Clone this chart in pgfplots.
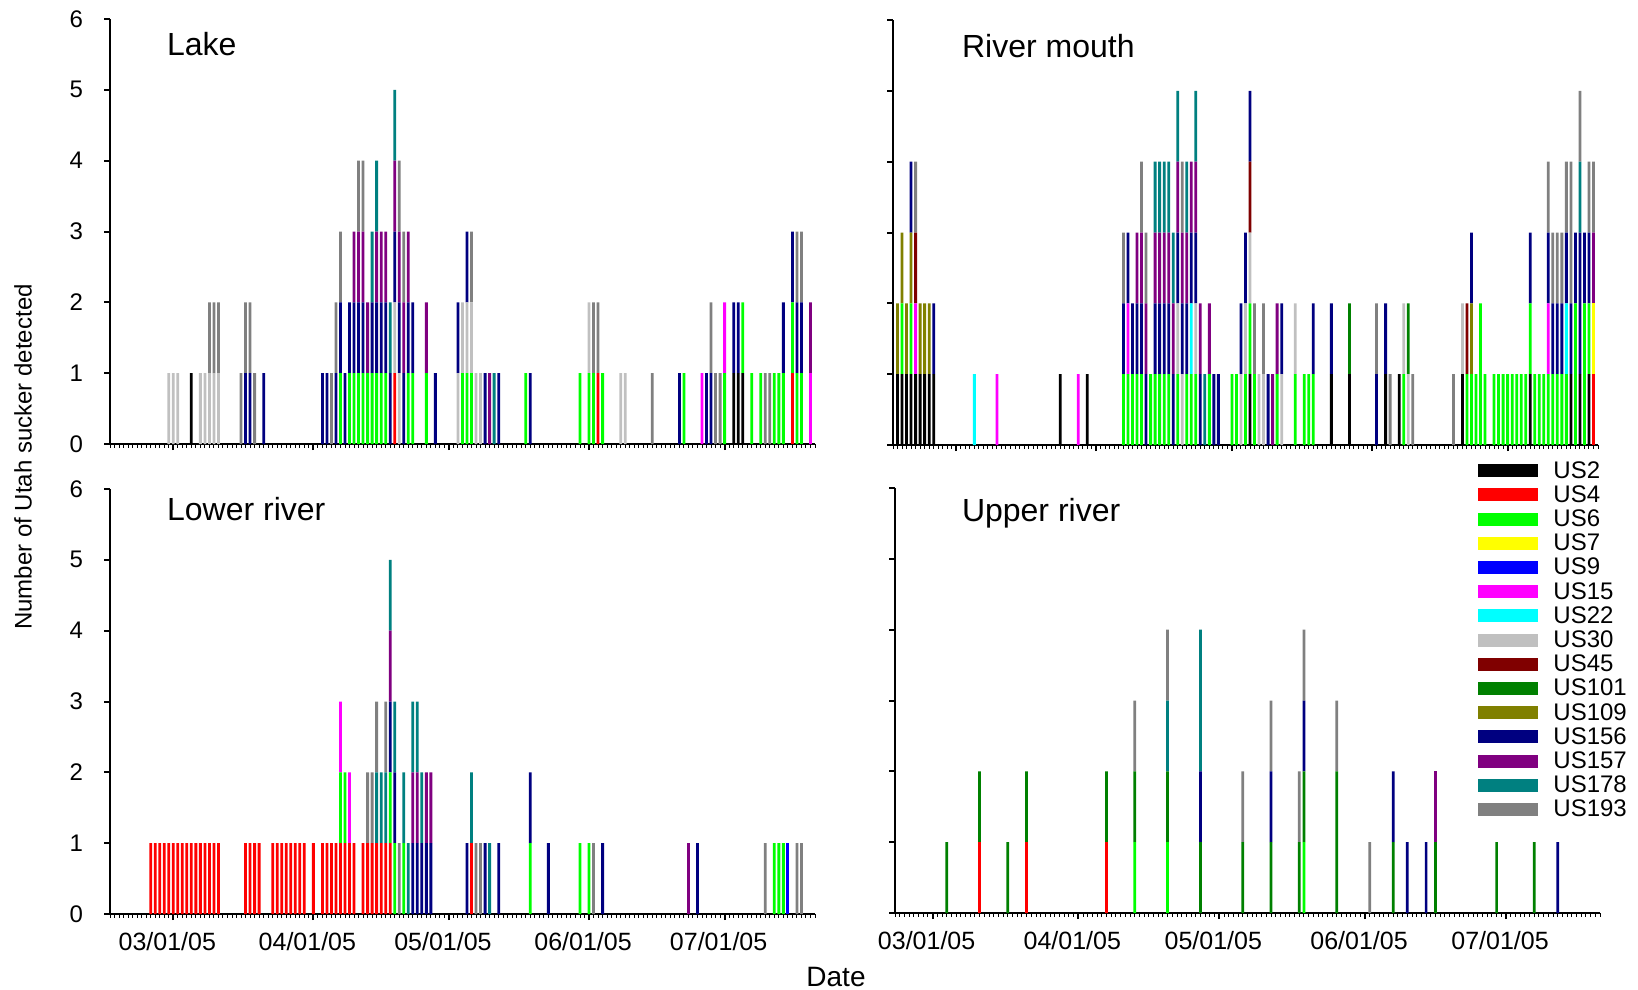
\documentclass[border=0pt]{standalone}
\usepackage{pgfplots}
\pgfplotsset{compat=1.18}
\usepackage{pgfplotstable}
\usepackage{fontspec}
\setmainfont{Liberation Sans}

\definecolor{c2}{RGB}{0,0,0}
\definecolor{c4}{RGB}{255,0,0}
\definecolor{c6}{RGB}{0,255,0}
\definecolor{c7}{RGB}{255,255,0}
\definecolor{c9}{RGB}{0,0,255}
\definecolor{c15}{RGB}{255,0,255}
\definecolor{c22}{RGB}{0,255,255}
\definecolor{c30}{RGB}{192,192,192}
\definecolor{c45}{RGB}{128,0,0}
\definecolor{c101}{RGB}{0,128,0}
\definecolor{c109}{RGB}{128,128,0}
\definecolor{c156}{RGB}{0,0,128}
\definecolor{c157}{RGB}{128,0,128}
\definecolor{c178}{RGB}{0,128,128}
\definecolor{c193}{RGB}{128,128,128}

% columns: day (0 = 03/01/05), then number detected per fish
\pgfplotstableread{
d s2 s4 s6 s7 s9 s15 s22 s30 s45 s101 s109 s156 s157 s178 s193
-1 0 0 0 0 0 0 0 1 0 0 0 0 0 0 0
0 0 0 0 0 0 0 0 1 0 0 0 0 0 0 0
1 0 0 0 0 0 0 0 1 0 0 0 0 0 0 0
4 1 0 0 0 0 0 0 0 0 0 0 0 0 0 0
6 0 0 0 0 0 0 0 1 0 0 0 0 0 0 0
7 0 0 0 0 0 0 0 1 0 0 0 0 0 0 0
8 0 0 0 0 0 0 0 1 0 0 0 0 0 0 1
9 0 0 0 0 0 0 0 1 0 0 0 0 0 0 1
10 0 0 0 0 0 0 0 1 0 0 0 0 0 0 1
15 0 0 0 0 0 0 0 0 0 0 0 0 0 0 1
16 0 0 0 0 0 0 0 0 0 0 0 1 0 0 1
17 0 0 0 0 0 0 0 0 0 0 0 1 0 0 1
18 0 0 0 0 0 0 0 0 0 0 0 0 0 0 1
20 0 0 0 0 0 0 0 0 0 0 0 1 0 0 0
33 0 0 0 0 0 0 0 0 0 0 0 1 0 0 0
34 0 0 0 0 0 0 0 0 0 0 0 1 0 0 0
35 0 0 0 0 0 0 0 0 0 0 0 0 0 0 1
36 0 0 0 0 0 0 0 0 0 0 0 1 0 0 1
37 0 0 1 0 0 0 0 0 0 0 0 1 0 0 1
38 0 0 0 0 0 0 0 0 0 0 0 1 0 0 0
39 0 0 1 0 0 0 0 0 0 0 0 1 0 0 0
40 0 0 1 0 0 0 0 0 0 0 0 1 1 0 0
41 0 0 1 0 0 0 0 0 0 0 0 1 1 0 1
42 0 0 1 0 0 0 0 0 0 0 0 1 1 0 1
43 0 0 1 0 0 0 0 0 0 0 0 0 1 0 0
44 0 0 1 0 0 0 0 0 0 0 0 1 0 1 0
45 0 0 1 0 0 0 0 0 0 0 0 1 1 1 0
46 0 0 1 0 0 0 0 0 0 0 0 1 1 0 0
47 0 0 1 0 0 0 0 0 0 0 0 1 1 0 0
48 0 0 0 0 0 0 0 0 0 0 0 1 0 1 0
49 0 1 0 0 0 0 0 1 0 0 0 1 1 1 0
50 0 0 0 0 0 0 0 1 0 0 0 1 1 0 1
51 0 0 0 0 0 0 0 0 0 0 0 1 1 0 1
52 0 0 1 0 0 0 0 0 0 0 0 1 1 0 0
53 0 0 1 0 0 0 0 0 0 0 0 1 0 0 0
56 0 0 1 0 0 0 0 0 0 0 0 0 1 0 0
58 0 0 0 0 0 0 0 0 0 0 0 1 0 0 0
63 0 0 0 0 0 0 0 1 0 0 0 1 0 0 0
64 0 0 1 0 0 0 0 1 0 0 0 0 0 0 0
65 0 0 1 0 0 0 0 1 0 0 0 1 0 0 0
66 0 0 1 0 0 0 0 1 0 0 0 0 0 0 1
67 0 0 0 0 0 0 0 1 0 0 0 0 0 0 0
68 0 0 0 0 0 0 0 1 0 0 0 0 0 0 0
69 0 0 0 0 0 0 0 0 0 0 0 1 0 0 0
70 0 0 0 0 0 0 0 0 0 0 0 0 1 0 0
71 0 0 0 0 0 0 0 0 0 0 0 0 0 1 0
72 0 0 0 0 0 0 0 0 0 0 0 1 0 0 0
78 0 0 1 0 0 0 0 0 0 0 0 0 0 0 0
79 0 0 0 0 0 0 0 0 0 0 0 1 0 0 0
90 0 0 1 0 0 0 0 0 0 0 0 0 0 0 0
92 0 0 1 0 0 0 0 1 0 0 0 0 0 0 0
93 0 0 1 0 0 0 0 0 0 0 0 0 0 0 1
94 0 1 0 0 0 0 0 0 0 0 0 0 0 0 1
95 0 0 1 0 0 0 0 0 0 0 0 0 0 0 0
99 0 0 0 0 0 0 0 1 0 0 0 0 0 0 0
100 0 0 0 0 0 0 0 1 0 0 0 0 0 0 0
106 0 0 0 0 0 0 0 0 0 0 0 0 0 0 1
112 0 0 0 0 0 0 0 0 0 0 0 1 0 0 0
113 0 0 1 0 0 0 0 0 0 0 0 0 0 0 0
117 0 0 0 0 0 1 0 0 0 0 0 0 0 0 0
118 0 0 0 0 0 0 0 0 0 0 0 1 0 0 0
119 0 0 0 0 0 0 0 0 0 0 0 1 0 0 1
120 0 0 0 0 0 0 0 0 0 0 0 0 0 0 1
121 0 0 0 0 0 0 0 0 0 0 0 0 0 0 1
122 0 0 1 0 0 1 0 0 0 0 0 0 0 0 0
124 1 0 0 0 0 0 0 0 0 0 0 1 0 0 0
125 1 0 0 0 0 0 0 0 0 0 0 1 0 0 0
126 1 0 1 0 0 0 0 0 0 0 0 0 0 0 0
128 0 0 1 0 0 0 0 0 0 0 0 0 0 0 0
130 0 0 1 0 0 0 0 0 0 0 0 0 0 0 0
131 0 0 0 0 0 0 0 0 0 0 0 0 0 0 1
132 0 0 0 0 0 0 0 0 0 0 0 0 0 0 1
133 0 0 1 0 0 0 0 0 0 0 0 0 0 0 0
134 0 0 1 0 0 0 0 0 0 0 0 0 0 0 0
135 0 0 1 0 0 0 0 0 0 0 0 1 0 0 0
137 0 1 1 0 0 0 0 0 0 0 0 1 0 0 0
138 0 0 1 0 0 0 0 0 0 0 0 1 0 0 1
139 0 0 1 0 0 0 0 0 0 0 0 1 0 0 1
141 0 0 0 0 0 1 0 0 0 0 0 0 1 0 0
}\tLake

\pgfplotstableread{
d s2 s4 s6 s7 s9 s15 s22 s30 s45 s101 s109 s156 s157 s178 s193
-13 1 0 0 0 0 0 0 0 0 0 1 0 0 0 0
-12 1 0 1 0 0 0 0 0 0 0 1 0 0 0 0
-11 1 0 0 0 0 0 0 0 0 0 1 0 0 0 0
-10 1 0 1 0 0 0 0 0 0 0 1 1 0 0 0
-9 1 0 0 0 0 1 0 0 1 0 0 0 0 0 1
-8 1 0 0 0 0 0 0 0 0 0 1 0 0 0 0
-7 1 0 0 0 0 0 0 0 0 0 1 0 0 0 0
-6 1 0 0 0 0 0 0 0 0 0 1 0 0 0 0
-5 1 0 0 0 0 0 0 0 0 0 0 1 0 0 0
4 0 0 0 0 0 0 1 0 0 0 0 0 0 0 0
9 0 0 0 0 0 1 0 0 0 0 0 0 0 0 0
23 1 0 0 0 0 0 0 0 0 0 0 0 0 0 0
27 0 0 0 0 0 1 0 0 0 0 0 0 0 0 0
29 1 0 0 0 0 0 0 0 0 0 0 0 0 0 0
37 0 0 1 0 0 0 0 0 0 0 0 1 0 0 1
38 0 0 1 0 0 1 0 0 0 0 0 1 0 0 0
39 0 0 1 0 0 0 0 0 0 0 0 1 0 0 0
40 0 0 1 0 0 0 0 0 0 0 0 1 1 0 0
41 0 0 1 0 0 0 0 0 0 0 0 1 1 0 1
42 0 0 0 0 0 0 0 0 0 0 0 1 1 0 1
43 0 0 1 0 0 0 0 0 0 0 0 0 0 0 0
44 0 0 1 0 0 0 0 0 0 0 0 1 1 1 0
45 0 0 1 0 0 0 0 0 0 0 0 1 1 1 0
46 0 0 1 0 0 0 0 0 0 0 0 1 1 1 0
47 0 0 1 0 0 0 0 0 0 0 0 1 1 1 0
48 0 0 0 0 0 0 0 0 0 0 0 1 1 1 0
49 0 0 1 0 0 0 0 1 0 0 0 1 1 1 0
50 0 0 0 0 0 0 0 1 0 0 0 1 1 0 1
51 0 0 1 0 0 0 0 0 0 0 0 1 1 1 0
52 0 0 1 0 0 0 1 0 0 0 0 1 1 0 0
53 0 0 1 0 0 0 0 1 0 0 0 1 1 1 0
54 0 0 0 0 0 0 0 0 0 0 0 1 1 0 0
55 0 0 0 0 0 0 0 0 0 0 0 0 0 1 0
56 0 0 1 0 0 0 0 0 0 0 0 0 1 0 0
57 0 0 0 0 0 0 0 0 0 0 0 1 0 0 0
58 0 0 0 0 0 0 0 0 0 0 0 1 0 0 0
61 0 0 1 0 0 0 0 0 0 0 0 0 0 0 0
62 0 0 1 0 0 0 0 0 0 0 0 0 0 0 0
63 0 0 0 0 0 0 0 1 0 0 0 1 0 0 0
64 0 0 1 0 0 0 0 1 0 0 0 1 0 0 0
65 1 0 1 0 0 0 0 1 1 0 0 1 0 0 0
66 0 0 1 0 0 0 0 0 0 0 0 0 0 0 1
67 0 0 0 0 0 0 0 1 0 0 0 0 0 0 0
68 0 0 0 0 0 0 0 1 0 0 0 0 0 0 1
69 0 0 0 0 0 0 0 0 0 0 0 1 0 0 0
70 0 0 0 0 0 0 0 0 0 0 0 0 1 0 0
71 0 0 1 0 0 0 0 0 0 0 0 0 1 0 0
72 0 0 0 0 0 0 0 1 0 0 0 1 0 0 0
75 0 0 1 0 0 0 0 1 0 0 0 0 0 0 0
77 0 0 1 0 0 0 0 0 0 0 0 0 0 0 0
78 0 0 1 0 0 0 0 0 0 0 0 0 0 0 0
79 0 0 1 0 0 0 0 0 0 0 0 1 0 0 0
83 1 0 0 0 0 0 0 0 0 0 0 1 0 0 0
87 1 0 0 0 0 0 0 0 0 1 0 0 0 0 0
93 0 0 0 0 0 0 0 0 0 0 0 1 0 0 1
95 1 0 0 0 0 0 0 0 0 0 0 1 0 0 0
96 0 0 0 0 0 0 0 0 0 0 0 0 0 0 1
98 1 0 0 0 0 0 0 0 0 0 0 0 0 0 0
99 0 0 1 0 0 0 0 1 0 0 0 0 0 0 0
100 0 0 0 0 0 0 0 1 0 1 0 0 0 0 0
101 0 0 0 0 0 0 0 0 0 0 0 0 0 0 1
110 0 0 0 0 0 0 0 0 0 0 0 0 0 0 1
112 1 0 0 0 0 0 0 1 0 0 0 0 0 0 0
113 0 0 1 0 0 0 0 0 1 0 0 0 0 0 0
114 0 0 1 0 0 0 0 0 0 0 1 1 0 0 0
115 0 0 1 0 0 0 0 0 0 0 0 0 0 0 0
116 0 0 2 0 0 0 0 0 0 0 0 0 0 0 0
117 0 0 1 0 0 0 0 0 0 0 0 0 0 0 0
119 0 0 1 0 0 0 0 0 0 0 0 0 0 0 0
120 0 0 1 0 0 0 0 0 0 0 0 0 0 0 0
121 0 0 1 0 0 0 0 0 0 0 0 0 0 0 0
122 0 0 1 0 0 0 0 0 0 0 0 0 0 0 0
123 0 0 1 0 0 0 0 0 0 0 0 0 0 0 0
124 0 0 1 0 0 0 0 0 0 0 0 0 0 0 0
125 0 0 1 0 0 0 0 0 0 0 0 0 0 0 0
126 0 0 1 0 0 0 0 0 0 0 0 0 0 0 0
127 1 0 1 0 0 0 0 0 0 0 0 1 0 0 0
128 0 0 1 0 0 0 0 0 0 0 0 0 0 0 0
129 0 0 1 0 0 0 0 0 0 0 0 0 0 0 0
130 0 0 1 0 0 0 0 0 0 0 0 0 0 0 0
131 0 0 1 0 0 1 0 0 0 0 0 1 0 0 1
132 0 0 1 0 0 0 0 0 0 0 0 1 0 0 1
133 0 0 1 0 0 0 0 0 0 0 0 1 0 0 1
134 0 0 1 0 0 0 0 0 0 0 0 1 0 0 1
135 0 0 1 0 0 0 1 0 0 0 0 1 0 0 1
136 1 0 0 0 0 0 0 0 0 0 0 1 0 0 2
137 0 0 2 0 0 0 0 0 0 0 0 1 0 0 0
138 1 0 0 0 0 0 0 0 0 0 0 2 0 1 1
139 0 0 2 0 0 0 0 0 0 0 0 1 0 0 0
140 1 0 1 0 0 0 0 0 0 0 0 1 0 0 1
141 0 1 0 1 0 0 0 0 0 0 0 0 1 0 1
}\tRiver

\pgfplotstableread{
d s2 s4 s6 s7 s9 s15 s22 s30 s45 s101 s109 s156 s157 s178 s193
-5 0 1 0 0 0 0 0 0 0 0 0 0 0 0 0
-4 0 1 0 0 0 0 0 0 0 0 0 0 0 0 0
-3 0 1 0 0 0 0 0 0 0 0 0 0 0 0 0
-2 0 1 0 0 0 0 0 0 0 0 0 0 0 0 0
-1 0 1 0 0 0 0 0 0 0 0 0 0 0 0 0
0 0 1 0 0 0 0 0 0 0 0 0 0 0 0 0
1 0 1 0 0 0 0 0 0 0 0 0 0 0 0 0
2 0 1 0 0 0 0 0 0 0 0 0 0 0 0 0
3 0 1 0 0 0 0 0 0 0 0 0 0 0 0 0
4 0 1 0 0 0 0 0 0 0 0 0 0 0 0 0
5 0 1 0 0 0 0 0 0 0 0 0 0 0 0 0
6 0 1 0 0 0 0 0 0 0 0 0 0 0 0 0
7 0 1 0 0 0 0 0 0 0 0 0 0 0 0 0
8 0 1 0 0 0 0 0 0 0 0 0 0 0 0 0
9 0 1 0 0 0 0 0 0 0 0 0 0 0 0 0
10 0 1 0 0 0 0 0 0 0 0 0 0 0 0 0
16 0 1 0 0 0 0 0 0 0 0 0 0 0 0 0
17 0 1 0 0 0 0 0 0 0 0 0 0 0 0 0
18 0 1 0 0 0 0 0 0 0 0 0 0 0 0 0
19 0 1 0 0 0 0 0 0 0 0 0 0 0 0 0
22 0 1 0 0 0 0 0 0 0 0 0 0 0 0 0
23 0 1 0 0 0 0 0 0 0 0 0 0 0 0 0
24 0 1 0 0 0 0 0 0 0 0 0 0 0 0 0
25 0 1 0 0 0 0 0 0 0 0 0 0 0 0 0
26 0 1 0 0 0 0 0 0 0 0 0 0 0 0 0
27 0 1 0 0 0 0 0 0 0 0 0 0 0 0 0
28 0 1 0 0 0 0 0 0 0 0 0 0 0 0 0
29 0 1 0 0 0 0 0 0 0 0 0 0 0 0 0
31 0 1 0 0 0 0 0 0 0 0 0 0 0 0 0
33 0 1 0 0 0 0 0 0 0 0 0 0 0 0 0
34 0 1 0 0 0 0 0 0 0 0 0 0 0 0 0
35 0 1 0 0 0 0 0 0 0 0 0 0 0 0 0
36 0 1 0 0 0 0 0 0 0 0 0 0 0 0 0
37 0 1 1 0 0 1 0 0 0 0 0 0 0 0 0
38 0 1 1 0 0 0 0 0 0 0 0 0 0 0 0
39 0 1 0 0 0 1 0 0 0 0 0 0 0 0 0
40 0 1 0 0 0 0 0 0 0 0 0 0 0 0 0
42 0 1 0 0 0 0 0 0 0 0 0 0 0 0 0
43 0 1 0 0 0 0 0 0 0 0 0 0 0 0 1
44 0 1 0 0 0 0 0 0 0 0 0 0 0 0 1
45 0 1 0 0 0 0 0 0 0 0 0 0 0 1 1
46 0 1 0 0 0 0 0 0 0 0 0 0 0 1 0
47 0 1 0 0 0 0 0 0 0 0 0 0 0 1 1
48 0 1 1 0 0 0 0 0 0 0 0 1 1 1 0
49 0 0 1 0 0 0 0 0 0 0 0 1 0 1 0
50 0 0 0 0 0 0 0 0 0 0 0 0 0 0 1
51 0 0 1 0 0 0 0 0 0 0 0 0 0 1 0
52 0 0 0 0 0 0 0 0 0 0 0 0 0 1 0
53 0 0 0 0 0 0 0 0 0 0 0 1 1 1 0
54 0 0 0 0 0 0 0 0 0 0 0 1 1 1 0
55 0 0 0 0 0 0 0 0 0 0 0 1 0 1 0
56 0 0 0 0 0 0 0 0 0 0 0 1 1 0 0
57 0 0 0 0 0 0 0 0 0 0 0 1 1 0 0
65 0 0 0 0 0 0 0 0 0 0 0 1 0 0 0
66 0 1 0 0 0 0 0 0 0 0 0 0 0 1 0
67 0 0 0 0 0 0 0 0 0 0 0 0 0 0 1
68 0 0 0 0 0 0 0 0 0 0 0 0 0 0 1
69 0 0 0 0 0 0 0 0 0 0 0 1 0 0 0
70 0 0 0 0 0 0 0 0 0 0 0 0 0 1 0
72 0 0 0 0 0 0 0 0 0 0 0 1 0 0 0
79 0 0 1 0 0 0 0 0 0 0 0 1 0 0 0
83 0 0 0 0 0 0 0 0 0 0 0 1 0 0 0
90 0 0 1 0 0 0 0 0 0 0 0 0 0 0 0
92 0 0 1 0 0 0 0 0 0 0 0 0 0 0 0
93 0 0 0 0 0 0 0 0 0 0 0 0 0 0 1
95 0 0 0 0 0 0 0 0 0 0 0 1 0 0 0
114 0 0 0 0 0 0 0 0 0 0 0 0 1 0 0
116 0 0 0 0 0 0 0 0 0 0 0 1 0 0 0
131 0 0 0 0 0 0 0 0 0 0 0 0 0 0 1
133 0 0 1 0 0 0 0 0 0 0 0 0 0 0 0
134 0 0 1 0 0 0 0 0 0 0 0 0 0 0 0
135 0 0 1 0 0 0 0 0 0 0 0 0 0 0 0
136 0 0 0 0 1 0 0 0 0 0 0 0 0 0 0
138 0 0 0 0 0 0 0 0 0 0 0 0 0 0 1
139 0 0 0 0 0 0 0 0 0 0 0 0 0 0 1
}\tLower

\pgfplotstableread{
d s2 s4 s6 s7 s9 s15 s22 s30 s45 s101 s109 s156 s157 s178 s193
3 0 0 0 0 0 0 0 0 0 1 0 0 0 0 0
10 0 1 0 0 0 0 0 0 0 1 0 0 0 0 0
16 0 0 0 0 0 0 0 0 0 1 0 0 0 0 0
20 0 1 0 0 0 0 0 0 0 1 0 0 0 0 0
37 0 1 0 0 0 0 0 0 0 1 0 0 0 0 0
43 0 0 1 0 0 0 0 0 0 1 0 0 0 0 1
50 0 0 1 0 0 0 0 0 0 1 0 0 0 1 1
57 0 0 0 0 0 0 0 0 0 1 0 1 0 2 0
66 0 0 0 0 0 0 0 0 0 1 0 0 0 0 1
72 0 0 0 0 0 0 0 0 0 1 0 1 0 0 1
78 0 0 0 0 0 0 0 0 0 1 0 0 0 0 1
79 0 0 1 0 0 0 0 0 0 1 0 1 0 0 1
86 0 0 0 0 0 0 0 0 0 2 0 0 0 0 1
93 0 0 0 0 0 0 0 0 0 0 0 0 0 0 1
98 0 0 0 0 0 0 0 0 0 1 0 1 0 0 0
101 0 0 0 0 0 0 0 0 0 0 0 1 0 0 0
105 0 0 0 0 0 0 0 0 0 0 0 1 0 0 0
107 0 0 0 0 0 0 0 0 0 1 0 0 1 0 0
120 0 0 0 0 0 0 0 0 0 1 0 0 0 0 0
128 0 0 0 0 0 0 0 0 0 1 0 0 0 0 0
133 0 0 0 0 0 0 0 0 0 0 0 1 0 0 0
}\tUpper

\newcommand\plotall[1]{%
  \pgfplotsinvokeforeach{2,4,6,7,9,15,22,30,45,101,109,156,157,178,193}{%
    \addplot[fill=c##1, draw=none] table[x=d, y=s##1] {#1};}}

\tikzset{title node/.style={anchor=base west, font=\fontsize{16}{18}\selectfont}}

\pgfplotsset{
  panel/.style={
    scale only axis, width=352.5pt, height=212.5pt,
    anchor=south west,
    ybar stacked, bar width=0.62,
    ymin=0, ymax=6, ytick={0,...,6},
    xmin=-14, xmax=142,
    axis lines*=left,
    axis line style={line width=0.8pt, black},
    tick align=outside,
    xtick={0,31,61,92,122},
    minor xtick={-14,...,142},
    major tick length=3pt, minor tick length=1.8pt,
    major tick style={line width=1pt, black},
    minor tick style={line width=0.5pt, black},
    /pgf/number format/assume math mode=true,
    yticklabel style={xshift=-7pt, font=\fontsize{12}{14}\selectfont},
    xticklabel style={yshift=-2.5pt, xshift=-3pt, font=\fontsize{12.5}{14}\selectfont},
    clip=false,
  },
  datelabels/.style={xticklabels={03/01/05,04/01/05,05/01/05,06/01/05,07/01/05}},
}

\begin{document}
\begin{tikzpicture}
\path[use as bounding box] (0,0) rectangle (819pt,-495pt);

% Lake
\begin{axis}[panel, at={(55pt,-222pt)}, xticklabels={}]
\plotall{\tLake}
\node[title node] at (rel axis cs:0.071,0.915) {Lake};
\end{axis}

% River mouth
\begin{axis}[panel, at={(446.5pt,-222.5pt)}, xticklabels={}, yticklabels={}]
\plotall{\tRiver}
\node[title node] at (rel axis cs:0.088,0.912) {River mouth};
\end{axis}

% Lower river
\begin{axis}[panel, at={(55pt,-457pt)}, datelabels]
\plotall{\tLower}
\node[title node] at (rel axis cs:0.071,0.925) {Lower river};
\end{axis}

% Upper river
\begin{axis}[panel, at={(447.5pt,-456.5pt)}, datelabels, yticklabels={},
  xmin=-8, minor xtick={-8,...,142}, bar width=0.58,
  legend cell align=left,
  legend image code/.code={\fill[#1,/tikz/.cd,draw=none] (0pt,-2.4pt) rectangle (30pt,4.1pt);},
  legend style={at={(0.827,1.066)}, anchor=north west, draw=none, fill=none,
    inner sep=0pt, row sep=0pt,
    font=\fontsize{12}{12}\selectfont,
    nodes={inner sep=0pt, text height=8.9pt, text depth=3.2pt},
    /tikz/every odd column/.append style={column sep=7.5pt}}]
\plotall{\tUpper}
\legend{US2,US4,US6,US7,US9,US15,US22,US30,US45,US101,US109,US156,US157,US178,US193}
\node[title node] at (rel axis cs:0.085,0.922) {Upper river};
\end{axis}

\node[rotate=90, font=\fontsize{12}{14}\selectfont] at (11.5pt,-228.5pt) {Number of Utah sucker detected};
\node[font=\fontsize{14}{16}\selectfont] at (418pt,-488.5pt) {Date};
\end{tikzpicture}
\end{document}
